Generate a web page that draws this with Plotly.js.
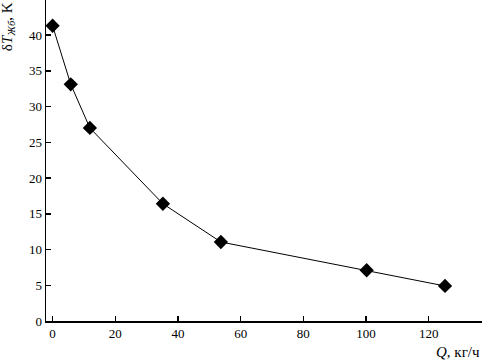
<!DOCTYPE html>
<html><head><meta charset="utf-8">
<script src="https://cdn.plot.ly/plotly-3.0.1.min.js"></script>
<style>body{margin:0;background:#fff}#c{width:482px;height:362px}</style>
</head><body><div id="c"></div>
<script>
const flowQ = [0, 5.8, 11.9, 35.2, 53.7, 100.2, 125.2];
const deltaT = [41.3, 33.1, 27.0, 16.4, 11.05, 7.1, 4.9];
const xTicks = [0, 20, 40, 60, 80, 100, 120];
const yTicks = [0, 5, 10, 15, 20, 25, 30, 35, 40];

const font = {family: 'Liberation Serif, Times New Roman, serif', size: 13, color: '#000'};
const titleFont = {family: 'Liberation Serif, Times New Roman, serif', size: 15, color: '#000'};
const trace = {
  x: flowQ, y: deltaT, type: 'scatter', mode: 'lines+markers',
  line: {color: '#000', width: 1},
  marker: {symbol: 'diamond', size: 11, color: '#000'},
  cliponaxis: false
};
const layout = {
  width: 482, height: 362,
  margin: {l: 46, r: 0, t: 0, b: 41},
  paper_bgcolor: '#fff', plot_bgcolor: '#fff',
  font: font,
  showlegend: false,
  xaxis: {range: [-2.1, 137], tickvals: xTicks, ticks: 'inside', ticklen: 5, tickwidth: 1.5,
    tickcolor: '#000', showline: true, linecolor: '#000', linewidth: 1.5, showgrid: false,
    zeroline: false, tickfont: font},
  yaxis: {range: [0, 44.9], tickvals: yTicks, ticks: 'inside', ticklen: 5, tickwidth: 1.5,
    tickcolor: '#000', showline: true, linecolor: '#000', linewidth: 1.5, showgrid: false,
    zeroline: false, tickfont: font},
  annotations: [
    {text: 'δ<i>T</i><sub><i>Жб</i></sub>, K', xref: 'paper', yref: 'paper', x: -0.088, y: 1,
     xanchor: 'center', yanchor: 'top', textangle: -90, showarrow: false, font: titleFont},
    {text: '<i>Q</i>, кг/ч', xref: 'paper', yref: 'paper', x: 1, y: -0.065,
     xanchor: 'right', yanchor: 'top', showarrow: false, font: titleFont}
  ]
};
Plotly.newPlot('c', [trace], layout, {staticPlot: true, displayModeBar: false});
</script></body></html>
